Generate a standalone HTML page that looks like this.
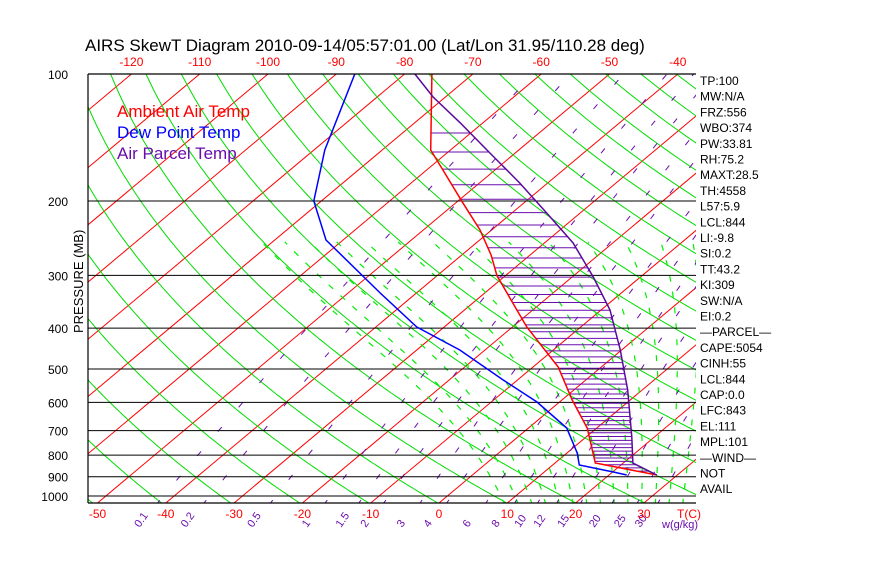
<!DOCTYPE html>
<html><head><meta charset="utf-8"><style>
html,body{margin:0;padding:0;background:#fff;}
body{width:870px;height:560px;overflow:hidden;font-family:"Liberation Sans",sans-serif;}
svg text{font-family:"Liberation Sans",sans-serif;}
</style></head><body>
<svg id="chart" width="870" height="560" xmlns="http://www.w3.org/2000/svg">
<defs><clipPath id="plotclip"><rect x="88" y="74" width="608" height="429"/></clipPath></defs>
<text x="85" y="51" font-size="17" fill="#000">AIRS SkewT Diagram 2010-09-14/05:57:01.00 (Lat/Lon 31.95/110.28 deg)</text>
<g id="grid" clip-path="url(#plotclip)"></g>
<g id="axes"></g>
<text x="117" y="117" font-size="17" fill="#ff0000">Ambient Air Temp</text>
<text x="117" y="138" font-size="17" fill="#0000ff">Dew Point Temp</text>
<text x="117" y="159" font-size="17" fill="#6a0dad">Air Parcel Temp</text>
<text x="0" y="0" font-size="13" fill="#000" transform="translate(83,333) rotate(-90)">PRESSURE (MB)</text>
<g id="stats"></g>
</svg>
<script>
// ---- data ----
const pressureTicks = [100,200,300,400,500,600,700,800,900,1000];
const bottomTempTicks = [-50,-40,-30,-20,-10,0,10,20,30];
const topTempTicks = [-120,-110,-100,-90,-80,-70,-60,-50,-40];
const mixingRatios = [0.1,0.2,0.5,1,1.5,2,3,4,6,8,10,12,15,20,25,30];
const envP = [100,151.4,168.9,200.2,234.3,268.5,300.8,397.7,494.8,592.2,690.2,835.2,891.9];
const envT = [-76.0,-62.9,-57.6,-49.4,-41.7,-35.7,-31.2,-17.9,-6.3,1.5,8.6,15.9,27.0];
const dewP = [100,151.4,200,247.4,330.4,397.7,450.8,531,598.8,690.2,790.9,844.3,877.3,891.9];
const dewT = [-87.3,-78.4,-71.1,-62.5,-45.3,-34.0,-23.7,-12.1,-3.3,5.6,11.5,13.9,20.1,22.6];
const parP = [100,113.4,130.6,153.9,181.3,213.5,251.5,302.7,362.4,450.8,561,724.9,835.2,891.9];
const parT = [-78.5,-71.8,-63.3,-53.7,-44.1,-34.9,-25.8,-16.9,-8.7,-0.2,7.9,16.7,21.4,27.0];
const statLabels = ["TP:100","MW:N/A","FRZ:556","WBO:374","PW:33.81","RH:75.2","MAXT:28.5","TH:4558","L57:5.9","LCL:844","LI:-9.8","SI:0.2","TT:43.2","KI:309","SW:N/A","EI:0.2","\u2014PARCEL\u2014","CAPE:5054","CINH:55","LCL:844","CAP:0.0","LFC:843","EL:111","MPL:101","\u2014WIND\u2014","NOT","AVAIL"];

// ---- axis functions ----
const TOP=74, BOT=503, LEFT=88, RIGHT=696, PXDEC=422, X0=439, DX=6.83, SKEW=1.1935;
function yP(p){return TOP+PXDEC*Math.log10(p/100);}
function xT(t,y){return X0+DX*t+(BOT-y)*SKEW;}
const NS="http://www.w3.org/2000/svg";
const grid=document.getElementById('grid'), axes=document.getElementById('axes'), stats=document.getElementById('stats');
function mk(tag,attrs,parent){const e=document.createElementNS(NS,tag);for(const k in attrs)e.setAttribute(k,attrs[k]);parent.appendChild(e);return e;}
function polyPts(ps,ts){return ps.map((p,i)=>{const y=yP(p);return xT(ts[i],y).toFixed(1)+','+y.toFixed(1);}).join(' ');}

// isotherms
for(let t=-160;t<=50;t+=10){
  const l=mk('line',{x1:xT(t,BOT),y1:BOT,x2:xT(t,TOP),y2:TOP,stroke:'#ff0000','stroke-width':1},grid);
  
  
}
// dry adiabats
const pGrid=[];for(let p=1050;p>=95;p-=5)pGrid.push(p);
for(let th=200;th<=520;th+=10){
  const ts=pGrid.map(p=>th*Math.pow(p/1000,0.286)-273.15);
  const l=mk('polyline',{points:polyPts(pGrid,ts),fill:'none',stroke:'#00dd00','stroke-width':1},grid);
  
  
}
// moist adiabats
function es(t){return 6.112*Math.exp(17.67*t/(t+243.5));}
for(let t0=10;t0<=40;t0+=2){
  let T=t0+273.15, ps=[], ts=[];
  for(let p=1050;p>=250;p-=5){
    ps.push(p);ts.push(T-273.15);
    const e=es(T-273.15), rs=0.622*e/(p-e);
    const dTdp=(287*T+2.5e6*rs)/(p*(1004+2.5e6*2.5e6*rs*0.622/(287*T*T)));
    T-=dTdp*5;
  }
  const l=mk('polyline',{points:polyPts(ps,ts),fill:'none',stroke:'#00ee00','stroke-width':1.2,'stroke-dasharray':'6,10'},grid);
  
  
}
// mixing ratio lines
function tdW(w,p){const e=w*p/(622+w);const a=Math.log(e/6.112);return 243.5*a/(17.67-a);}
const mrP=[];for(let p=1050;p>=100;p-=10)mrP.push(p);
mixingRatios.forEach(w=>{
  const l=mk('polyline',{points:polyPts(mrP,mrP.map(p=>tdW(w,p))),fill:'none',stroke:'#6a0dad','stroke-width':1,'stroke-dasharray':'6,26'},grid);
  
  
  const xb=xT(tdW(w,1040),BOT)-18;
  const t=mk('text',{x:xb,y:528,'font-size':11,fill:'#6a0dad',transform:`rotate(-55 ${xb} 528)`},axes);
  t.textContent=String(w);
  
  
});
// pressure lines
pressureTicks.forEach(p=>{
  const y=yP(p);
  const l=mk('line',{x1:LEFT,y1:y,x2:RIGHT,y2:y,stroke:'#000','stroke-width':1},grid);
  
  
  const t=mk('text',{x:68,y:y+5,'font-size':12,fill:'#000','text-anchor':'end'},axes);
  t.textContent=String(p);
  
  
});
// interpolation in log p
function interp(ps,ts,p){
  for(let i=0;i<ps.length-1;i++){
    if(p>=ps[i]&&p<=ps[i+1]){const f=(Math.log(p)-Math.log(ps[i]))/(Math.log(ps[i+1])-Math.log(ps[i]));return ts[i]+f*(ts[i+1]-ts[i]);}
  }
  return null;
}
// CAPE hatching
for(let p=138;p<=885;p+=15){
  const a=interp(envP,envT,p), b=interp(parP,parT,p);
  if(a===null||b===null||b<=a)continue;
  const y=yP(p);
  const l=mk('line',{x1:xT(a,y),y1:y,x2:xT(b,y),y2:y,stroke:'#6a0dad','stroke-width':1},grid);
  
  
}
// profiles
[[envP,envT,'#ff0000','ambient-temp-line'],[dewP,dewT,'#0000ff','dewpoint-line'],[parP,parT,'#5a0a9a','parcel-temp-line']].forEach(s=>{
  const l=mk('polyline',{points:polyPts(s[0],s[1]),fill:'none',stroke:s[2],'stroke-width':1.5},grid);
  
  
});
// frame
[[LEFT,TOP,RIGHT,TOP],[LEFT,BOT,RIGHT,BOT],[LEFT,TOP,LEFT,BOT]].forEach(c=>{
  const l=mk('line',{x1:c[0],y1:c[1],x2:c[2],y2:c[3],stroke:'#000','stroke-width':1.2},axes);
  
  
});
// temp tick labels
bottomTempTicks.forEach(t=>{
  const e=mk('text',{x:xT(t,BOT),y:518,'font-size':12,fill:'#ff0000','text-anchor':'middle'},axes);
  e.textContent=String(t);
  
  
});
topTempTicks.forEach(t=>{
  const e=mk('text',{x:xT(t,TOP),y:66,'font-size':12,fill:'#ff0000','text-anchor':'middle'},axes);
  e.textContent=String(t);
  
  
});
const tc=mk('text',{x:677,y:518,'font-size':12,fill:'#ff0000'},axes);
tc.textContent='T(C)';


const wl=mk('text',{x:662,y:528,'font-size':11,fill:'#6a0dad'},axes);
wl.textContent='w(g/kg)';


// stats
statLabels.forEach((s,i)=>{
  const e=mk('text',{x:700,y:85+i*15.7,'font-size':12,fill:'#000'},stats);
  e.textContent=s;
  
  
});
</script>
</body></html>
